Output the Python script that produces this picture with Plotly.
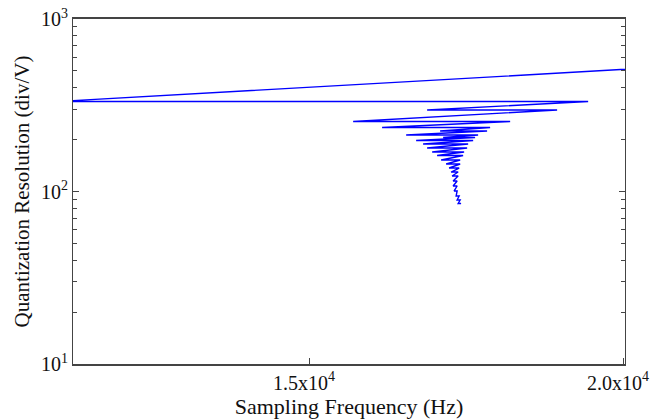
import plotly.graph_objects as go

# Start of the trajectory (off to the right, above the plot)
start_freq = 21500
start_res = 548

# Each step: a left turning point and a right turning point at the same resolution
left_freq = [11000, 16879, 15701, 16162, 17086, 16545, 17134, 16704, 16815, 16879,
             16959, 17038, 17102, 17182, 17229, 17261, 17277, 17293, 17293, 17309,
             17341, 17357, 17373]
right_freq = [19443, 18949, 18201, 17882, 17834, 17691, 17643, 17612, 17532, 17516,
              17468, 17452, 17405, 17405, 17389, 17373, 17373, 17357, 17357, 17357,
              17389, 17405, 17420]
resolution = [332.4, 296.9, 254.6, 235.0, 224.2, 212.6, 205.6, 197.6, 188.6, 178.7,
              169.4, 161.7, 152.3, 144.3, 136.8, 129.7, 123.0, 115.1, 107.6, 100.7,
              94.2, 89.3, 85.2]

x_ticks = [15000, 20000]
x_ticklabels = ["1.5x10<sup>4</sup>", "2.0x10<sup>4</sup>"]
y_ticks = [10, 100, 1000]
y_ticklabels = ["10<sup>1</sup>", "10<sup>2</sup>", "10<sup>3</sup>"]
y_minor = [m * 10 ** d for d in (1, 2) for m in range(2, 10)]

xs = [start_freq]
ys = [start_res]
for lf, rf, r in zip(left_freq, right_freq, resolution):
    xs += [lf, rf]
    ys += [r, r]

fig = go.Figure(go.Scatter(x=xs, y=ys, mode="lines",
                           line=dict(color="#0000ff", width=1.4),
                           showlegend=False, hoverinfo="skip"))

font = "Liberation Serif, Times New Roman, serif"
fig.update_layout(
    width=652, height=419,
    margin=dict(l=73, r=27, t=19, b=55),
    paper_bgcolor="white", plot_bgcolor="white",
    font=dict(family=font, color="#111", size=21),
)
fig.update_xaxes(
    range=[11240, 20030], showgrid=False, zeroline=False, automargin=False,
    showline=True, linecolor="#444", linewidth=1.5, mirror=True,
    ticks="inside", ticklen=6, tickcolor="#444",
    tickvals=x_ticks, ticktext=x_ticklabels, ticklabeloverflow="allow",
    ticklabelshift=-5,
    tickfont=dict(size=20),
    title=dict(text="Sampling Frequency (Hz)", font=dict(size=22), standoff=11),
)
fig.update_yaxes(
    type="log", range=[1, 3], showgrid=False, zeroline=False, automargin=False,
    showline=True, linecolor="#444", linewidth=1.2, mirror="ticks",
    ticks="inside", ticklen=6, tickcolor="#444",
    tickvals=y_ticks, ticktext=y_ticklabels, ticklabeloverflow="allow",
    tickfont=dict(size=20),
    minor=dict(ticks="inside", ticklen=4, tickcolor="#444", tickvals=y_minor),
    title=dict(text="Quantization Resolution (div/V)", font=dict(size=21), standoff=5),
)

# remove the default page margin so the figure fills the window exactly
fig.write_html("out.html",
               config={"displayModeBar": False},
               post_script="document.body.style.margin='0';"
                           "document.body.style.overflow='hidden';")
